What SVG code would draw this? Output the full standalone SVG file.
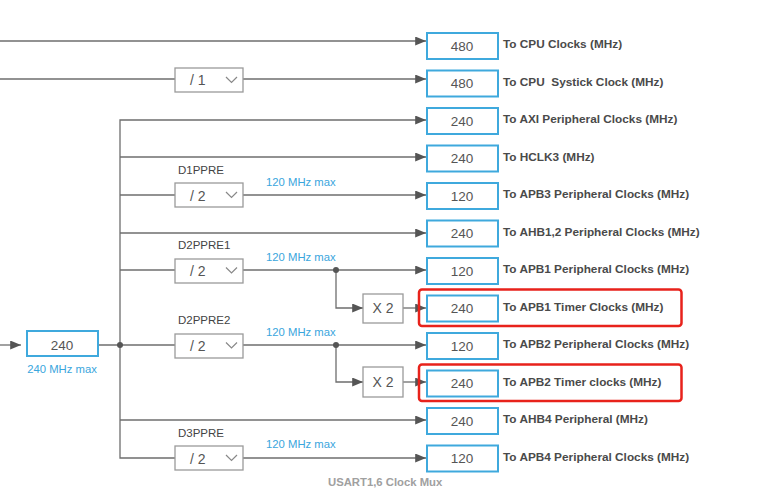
<svg xmlns="http://www.w3.org/2000/svg" width="765" height="490" viewBox="0 0 765 490">
<style>
.ln{fill:none;stroke:#6e6e6e;stroke-width:1.3}
.ob{fill:#fff;stroke:#3fa9dd;stroke-width:2}
.ov{font-family:"Liberation Sans",Arial,sans-serif;font-size:13.5px;fill:#555;text-anchor:middle}
.ol{font-family:"Liberation Sans",Arial,sans-serif;font-size:11.8px;font-weight:bold;fill:#4a4a4a;white-space:pre}
.dd{fill:#fff;stroke:#9a9a9a;stroke-width:1.3}
.dt{font-family:"Liberation Sans",Arial,sans-serif;font-size:14px;fill:#555}
.ch{fill:none;stroke:#888;stroke-width:1.2}
.pl{font-family:"Liberation Sans",Arial,sans-serif;font-size:11.5px;fill:#444}
.mx{font-family:"Liberation Sans",Arial,sans-serif;font-size:11.3px;fill:#3aa6dd}
.hl{fill:none;stroke:#e8221b;stroke-width:2.5}
.dot{fill:#555}
</style>
<defs>
<marker id="arr" viewBox="0 0 12 10" refX="12" refY="5" markerWidth="12" markerHeight="9" markerUnits="userSpaceOnUse" orient="auto">
<path d="M0,0 L12,5 L0,10 z" fill="#555"/>
</marker>
</defs>

<g id="connectors">
<path class="ln" d="M0,41 H426" marker-end="url(#arr)"/>
<path class="ln" d="M0,79 H175"/>
<path class="ln" d="M243,79 H426" marker-end="url(#arr)"/>
<path class="ln" d="M0,345 H21" marker-end="url(#arr)"/>
<path class="ln" d="M99,345 H175"/>
<path class="ln" d="M175,458 H120 V120 H426" marker-end="url(#arr)"/>
<path class="ln" d="M120,157 H426" marker-end="url(#arr)"/>
<path class="ln" d="M120,195 H183"/>
<path class="ln" d="M243,195 H426" marker-end="url(#arr)"/>
<path class="ln" d="M120,233 H426" marker-end="url(#arr)"/>
<path class="ln" d="M120,270 H175"/>
<path class="ln" d="M243,270 H426" marker-end="url(#arr)"/>
<path class="ln" d="M336,270 V308 H363" marker-end="url(#arr)"/>
<path class="ln" d="M403,308 H426" marker-end="url(#arr)"/>
<path class="ln" d="M243,345 H426" marker-end="url(#arr)"/>
<path class="ln" d="M336,345 V382 H363" marker-end="url(#arr)"/>
<path class="ln" d="M403,382 H426" marker-end="url(#arr)"/>
<path class="ln" d="M120,420 H426" marker-end="url(#arr)"/>
<path class="ln" d="M243,458 H426" marker-end="url(#arr)"/>
<circle class="dot" cx="120" cy="345" r="3"/>
<circle class="dot" cx="336" cy="270" r="3"/>
<circle class="dot" cx="336" cy="345" r="3"/>
</g>

<g id="main240">
<rect class="ob" x="27" y="331" width="71" height="25"/>
<text class="ov" x="62" y="350">240</text>
<text class="mx" x="62" y="373" text-anchor="middle">240 MHz max</text>
</g>

<g id="div1">
<rect class="dd" x="175" y="68" width="68" height="24"/>
<text class="dt" x="190" y="85">/ 1</text>
<polyline class="ch" points="226,77 231.5,82.5 237,77"/>
</g>
<g id="d1ppre">
<text class="pl" x="178" y="174">D1PPRE</text>
<rect class="dd" x="175" y="183" width="68" height="24"/>
<text class="dt" x="190" y="201">/ 2</text>
<polyline class="ch" points="226,192 231.5,197.5 237,192"/>
<text class="mx" x="266" y="185.5">120 MHz max</text>
</g>
<g id="d2ppre1">
<text class="pl" x="178" y="249">D2PPRE1</text>
<rect class="dd" x="175" y="259" width="68" height="24"/>
<text class="dt" x="190" y="276">/ 2</text>
<polyline class="ch" points="226,267.5 231.5,273 237,267.5"/>
<text class="mx" x="266" y="260.5">120 MHz max</text>
</g>
<g id="d2ppre2">
<text class="pl" x="178" y="324">D2PPRE2</text>
<rect class="dd" x="175" y="334" width="68" height="24"/>
<text class="dt" x="190" y="351">/ 2</text>
<polyline class="ch" points="226,342.5 231.5,348 237,342.5"/>
<text class="mx" x="266" y="335.5">120 MHz max</text>
</g>
<g id="d3ppre">
<text class="pl" x="178" y="437">D3PPRE</text>
<rect class="dd" x="175" y="446" width="68" height="24"/>
<text class="dt" x="190" y="464">/ 2</text>
<polyline class="ch" points="226,455 231.5,460.5 237,455"/>
<text class="mx" x="266" y="448">120 MHz max</text>
</g>

<g id="x2a">
<rect class="dd" x="363" y="294" width="40" height="29"/>
<text class="dt" x="383" y="313" text-anchor="middle">X 2</text>
</g>
<g id="x2b">
<rect class="dd" x="363" y="367" width="40" height="30"/>
<text class="dt" x="383" y="387" text-anchor="middle">X 2</text>
</g>

<g id="out0"><rect class="ob" x="427" y="33" width="71" height="26"/><text class="ov" x="462" y="50.5">480</text><text class="ol" x="503" y="48.3">To CPU Clocks (MHz)</text></g>
<g id="out1"><rect class="ob" x="427" y="70.5" width="71" height="26"/><text class="ov" x="462" y="88">480</text><text class="ol" x="503" y="85.8">To CPU  Systick Clock (MHz)</text></g>
<g id="out2"><rect class="ob" x="427" y="108" width="71" height="26"/><text class="ov" x="462" y="125.5">240</text><text class="ol" x="503" y="123.3">To AXI Peripheral Clocks (MHz)</text></g>
<g id="out3"><rect class="ob" x="427" y="145.5" width="71" height="26"/><text class="ov" x="462" y="163">240</text><text class="ol" x="503" y="160.8">To HCLK3 (MHz)</text></g>
<g id="out4"><rect class="ob" x="427" y="183" width="71" height="26"/><text class="ov" x="462" y="200.5">120</text><text class="ol" x="503" y="198.3">To APB3 Peripheral Clocks (MHz)</text></g>
<g id="out5"><rect class="ob" x="427" y="220.5" width="71" height="26"/><text class="ov" x="462" y="238">240</text><text class="ol" x="503" y="235.8">To AHB1,2 Peripheral Clocks (MHz)</text></g>
<g id="out6"><rect class="ob" x="427" y="258" width="71" height="26"/><text class="ov" x="462" y="275.5">120</text><text class="ol" x="503" y="273.3">To APB1 Peripheral Clocks (MHz)</text></g>
<g id="out7"><rect class="ob" x="427" y="295.5" width="71" height="26"/><text class="ov" x="462" y="313">240</text><text class="ol" x="503" y="310.8">To APB1 Timer Clocks (MHz)</text></g>
<g id="out8"><rect class="ob" x="427" y="333" width="71" height="26"/><text class="ov" x="462" y="350.5">120</text><text class="ol" x="503" y="348.3">To APB2 Peripheral Clocks (MHz)</text></g>
<g id="out9"><rect class="ob" x="427" y="370.5" width="71" height="26"/><text class="ov" x="462" y="388">240</text><text class="ol" x="503" y="385.8">To APB2 Timer clocks (MHz)</text></g>
<g id="out10"><rect class="ob" x="427" y="408" width="71" height="26"/><text class="ov" x="462" y="425.5">240</text><text class="ol" x="503" y="423.3">To AHB4 Peripheral (MHz)</text></g>
<g id="out11"><rect class="ob" x="427" y="445.5" width="71" height="26"/><text class="ov" x="462" y="463">120</text><text class="ol" x="503" y="460.8">To APB4 Peripheral Clocks (MHz)</text></g>

<g id="highlights">
<rect class="hl" x="419" y="289.5" width="262.5" height="36.5" rx="3"/>
<rect class="hl" x="419" y="364.5" width="262.5" height="36.5" rx="3"/>
</g>

<text x="328" y="486" font-family="Liberation Sans, Arial, sans-serif" font-size="11.3px" font-weight="bold" fill="#a0a0a0">USART1,6 Clock Mux</text>
</svg>
